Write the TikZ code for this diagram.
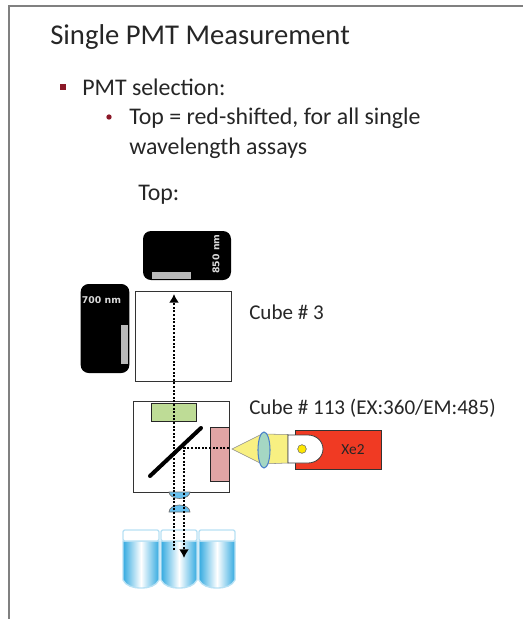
\documentclass[tikz,border=0pt]{standalone}
\usepackage{fontspec}
\setmainfont{Carlito}
\newfontfamily\tagfont{DejaVu Sans}
\usepackage{tikz}
\usetikzlibrary{arrows.meta,positioning,shapes.geometric}
\definecolor{slidered}{RGB}{139,24,40}
\definecolor{wellblue}{RGB}{52,170,224}
\definecolor{lensblue}{RGB}{104,192,238}
\definecolor{emgreen}{RGB}{190,220,150}
\definecolor{expink}{RGB}{225,165,165}
\definecolor{lampred}{RGB}{240,58,35}
\definecolor{coneyellow}{RGB}{248,240,130}
\definecolor{lenstealc}{RGB}{165,215,195}
\begin{document}
\begin{tikzpicture}[
   x=0.75pt, y=-0.75pt, font=\fontsize{17.9pt}{21pt}\selectfont, text=black!85,
   label text/.style={anchor=west, inner sep=0pt},
   cube label/.style={label text, font=\fontsize{15.8pt}{18pt}\selectfont},
   cube/.style={draw=black!80, line width=0.75pt, fill=white, inner sep=0pt},
   detector/.style={fill=black, rounded corners=6pt, inner sep=0pt},
   slit/.style={fill=black!27, inner sep=0pt},
   filterbox/.style={draw=black!85, line width=0.75pt, inner sep=0pt},
   beam/.style={draw=black, line width=1.5pt, dash pattern=on 1.5pt off 1.2pt, -{Latex[length=6.5pt,width=7.5pt]}},
   small tag/.style={text=white!85!black, font=\fontsize{7pt}{8pt}\tagfont\bfseries, inner sep=0pt}]
   \useasboundingbox (0,0) rectangle (523,619);
   \draw[black!50, line width=1.5pt] (523,5.5) -- (9,5.5) -- (9,619);

   % slide text
   \node[label text, font=\fontsize{21.5pt}{25pt}\selectfont] (title) at (50,37) {Single PMT Measurement};
   \node[fill=slidered, minimum size=5pt, inner sep=0pt] (bullet1) at (63,87) {};
   \node[label text] (selection) at (82,87) {PMT selection:};
   \node[circle, fill=slidered, minimum size=4pt, inner sep=0pt] (bullet2) at (109,117) {};
   \node[label text] (redshift) at (129,118) {Top = red-shifted, for all single};
   \node[label text] (assays) at (129,148) {wavelength assays};
   \node[label text] (toplabel) at (138,195) {Top:};

   % cubes and detectors
   \node[cube, minimum width=72pt, minimum height=67.5pt] (cube3) at (183,336) {};
   \node[cube, minimum width=72pt, minimum height=68.25pt] (cube113) at (181,446.5) {};
   \node[cube label] (cube3label) at (249,312) {Cube \# 3};
   \node[cube label] (cube113label) at (249,408) {Cube \# 113 (EX:360/EM:485)};
   \node[detector, minimum width=66pt, minimum height=36.75pt] (det850) at (187,255.5) {};
   \node[slit, minimum width=29pt, minimum height=5.2pt] (slit850) at (171.5,275.5) {};
   \node[small tag, rotate=90] (tag850) at (216,254) {850 nm};
   \node[detector, minimum width=36.5pt, minimum height=66.75pt] (det700) at (105,328.5) {};
   \node[slit, minimum width=5.2pt, minimum height=29.5pt] (slit700) at (124.5,344.5) {};
   \node[small tag] (tag700) at (101.5,300) {700 nm};

   % filters and lenses
   \node[filterbox, fill=emgreen, minimum width=33.75pt, minimum height=13.5pt] (emfilter) at (174,412) {};
   \node[filterbox, fill=expink, minimum width=14pt, minimum height=40.5pt] (exfilter) at (219.7,454) {};
   \draw[black, line width=3pt, line cap=round] (150,476) -- (201,428);
   \fill[lensblue, draw=black!55, line width=0.5pt] (169,492) arc[start angle=180, end angle=0, x radius=10.5, y radius=6.5] -- cycle;
   \fill[lensblue, draw=black!55, line width=0.5pt] (169,512) arc[start angle=180, end angle=360, x radius=10.5, y radius=7] -- cycle;

   % wells
   \foreach \wx in {123,161,199}{
      \draw[wellblue!35, line width=1pt, left color=wellblue, right color=wellblue, middle color=white]
         (\wx,541) -- (\wx,580) .. controls (\wx+3,586) and (\wx+10,588) .. (\wx+18,588) .. controls (\wx+26,588) and (\wx+33,586) .. (\wx+36,580) -- (\wx+36,541) -- cycle;
      \draw[wellblue!35, line width=1pt, rounded corners=1.5pt, fill=white] (\wx,541) -- (\wx,530) -- (\wx+36,530) -- (\wx+36,541) -- cycle;
   }

   % lamp
   \node[draw=black!80, fill=lampred, minimum width=64.5pt, minimum height=29.25pt, inner sep=0pt, font=\fontsize{11.5pt}{14pt}\selectfont, text depth=0pt] (lamp) at (338,449.5) {\hspace*{22.5pt}Xe2};
   \fill[coneyellow, draw=black!45, line width=0.4pt] (232,449) -- (262,434) -- (288,434.5) -- (288,463) -- (262,464) -- cycle;
   \draw[black!75, line width=0.6pt, fill=white] (288,435) -- (308,435) to[out=0, in=90] (323,449) to[out=270, in=0] (308,463) -- (288,463) -- cycle;
   \node[circle, draw=black!60, fill=yellow!90!orange, minimum size=6.5pt, inner sep=0pt] (bulb) at (302,449) {};
   \node[ellipse, draw=teal!60!blue!70, fill=lenstealc, line width=0.8pt, minimum width=9pt, minimum height=27pt, inner sep=0pt] (exlens) at (264,450) {};

   % beam paths
   \coordinate (beamstart) at (174,550);
   \coordinate (beamend) at (174,294);
   \coordinate (fold) at (184,448);
   \coordinate (beamin) at (229,448);
   \coordinate (welltip) at (184,558);
   \draw[beam] (beamstart) -- (beamend);
   \draw[beam] (beamin) -- (fold) -- (welltip);
\end{tikzpicture}
\end{document}
